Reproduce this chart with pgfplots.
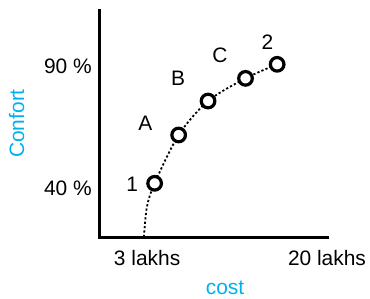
\documentclass[border=0pt]{standalone}
\usepackage{pgfplots}
\pgfplotsset{compat=1.18}
\usepackage{fontspec}
\setmainfont{Liberation Sans}
\definecolor{lblue}{RGB}{0,176,240}
\begin{document}
\fontsize{21}{25}\selectfont
\begin{tikzpicture}
\path[use as bounding box] (-99.5bp,-62bp) rectangle (270.5bp,237bp);
\begin{axis}[
  scale only axis, width=227.5bp, height=227bp,
  xmin=-1.5, xmax=20, ymin=20, ymax=113,
  axis lines=left,
  axis line style={-, line width=3bp, line cap=rect},
  xtick={3,20}, xticklabels={3 lakhs, 20 lakhs},
  ytick={40,90}, yticklabels={40 \%, 90 \%},
  major tick length=0pt,
  tick style={draw=none},
  xticklabel style={anchor=north, inner sep=0pt, yshift=-13bp},
  yticklabel style={anchor=east, inner sep=0pt, xshift=-7.5bp},
  ticklabel style={font=\fontsize{21}{25}\selectfont},
  xlabel={cost}, ylabel={Confort},
  xlabel style={at={(rel axis cs:0.552,-0.225)}, anchor=center, text=lblue, font=\fontsize{21}{25}\selectfont},
  ylabel style={at={(rel axis cs:-0.364,0.5)}, anchor=center, text=lblue, font=\fontsize{21}{25}\selectfont},
  clip=false,
]
\addplot[smooth, black, line width=1.8bp, dash pattern=on 2.2bp off 2.2bp] coordinates {
  (2.70,20) (2.98,32.3) (3.71,42.0) (5.98,61.8) (8.76,75.7) (12.30,85.0) (15.29,90.75)
};
\addplot[only marks, mark=*, mark size=6.8bp, mark options={fill=white, draw=black, line width=3.2bp}] coordinates {
  (3.71,42.0) (5.98,61.8) (8.76,75.7) (12.30,85.0) (15.29,90.75)
};
\node at (axis cs:1.58,41.6) {1};
\node at (axis cs:2.84,66.4) {A};
\node at (axis cs:5.92,85.1) {B};
\node at (axis cs:9.89,94.4) {C};
\node at (axis cs:14.36,99.8) {2};
\end{axis}
\end{tikzpicture}
\end{document}
